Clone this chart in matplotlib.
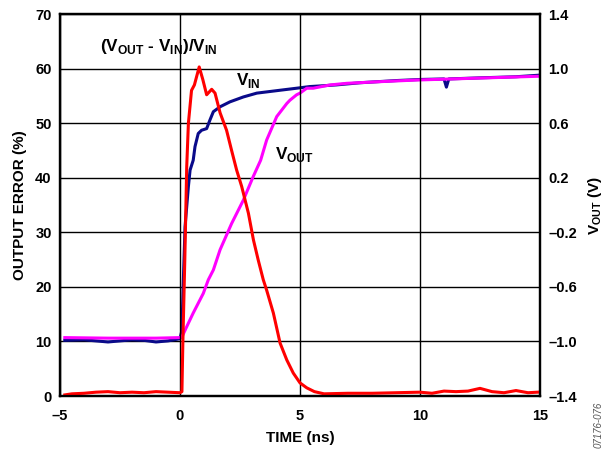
import matplotlib
matplotlib.use("Agg")
import matplotlib.pyplot as plt

plt.rcParams['font.family'] = ['Liberation Sans', 'DejaVu Sans']
plt.rcParams['font.weight'] = 'bold'
plt.rcParams['mathtext.fontset'] = 'custom'
plt.rcParams['mathtext.bf'] = 'Liberation Sans:bold'
plt.rcParams['mathtext.rm'] = 'Liberation Sans:bold'

# output error (%) vs time (ns)
err_t = [-4.8, -4.5, -4.0, -3.5, -3.0, -2.5, -2.0, -1.5, -1.0, -0.5, 0.0, 0.08, 0.12, 0.2, 0.28,
         0.35, 0.48, 0.6, 0.8, 0.95, 1.11, 1.32, 1.46, 1.67, 1.94, 2.15, 2.36, 2.57, 2.85, 3.06,
         3.26, 3.47, 3.61, 3.89, 4.17, 4.45, 4.72, 5.0, 5.28, 5.6, 6.0, 7.0, 8.0, 9.0, 10.0,
         10.5, 11.0, 11.5, 12.0, 12.5, 13.0, 13.5, 14.0, 14.5, 14.9]
err_pct = [0.2, 0.4, 0.5, 0.7, 0.8, 0.6, 0.7, 0.6, 0.8, 0.7, 0.6, 0.8, 10, 25, 42,
           50, 56, 57, 60.3, 58, 55.2, 56.2, 55.5, 51.9, 48.7, 45.0, 41.4, 38.4, 33.5, 28.6,
           24.9, 21.3, 19.4, 15.2, 9.7, 6.6, 4.2, 2.4, 1.5, 0.8, 0.4, 0.5, 0.5, 0.6, 0.7,
           0.5, 0.9, 0.8, 0.9, 1.4, 0.8, 0.6, 1.0, 0.6, 0.7]

# V_IN (V)
vin_t = [-4.8, -4.0, -3.5, -3.0, -2.5, -2.0, -1.5, -1.0, -0.5, 0.0, 0.08, 0.14, 0.21, 0.35,
         0.42, 0.55, 0.625, 0.76, 0.9, 1.11, 1.25, 1.39, 1.67, 2.08, 2.64, 3.2, 3.75, 4.3,
         4.86, 5.4, 6.5, 7.5, 9.0, 10.0, 11.0, 11.1, 11.2, 12.5, 14.0, 15.0]
vin_v = [-0.992, -0.988, -0.996, -1.004, -0.996, -0.988, -0.992, -1.004, -0.996, -0.98, -0.92,
         -0.548, -0.16, 0.136, 0.256, 0.328, 0.428, 0.524, 0.548, 0.56, 0.624, 0.684, 0.72,
         0.756, 0.792, 0.82, 0.832, 0.844, 0.856, 0.868, 0.88, 0.896, 0.912, 0.92, 0.924,
         0.864, 0.924, 0.932, 0.94, 0.952]

# V_OUT (V)
vout_t = [-4.8, -3.0, -1.0, 0.0, 0.1, 0.28, 0.55, 0.97, 1.18, 1.39, 1.67, 2.15, 2.64, 3.05,
          3.36, 3.61, 4.03, 4.45, 4.58, 4.86, 5.0, 5.28, 5.55, 6.25, 6.95, 8.33, 9.86, 15.0]
vout_v = [-0.972, -0.976, -0.976, -0.972, -0.96, -0.892, -0.792, -0.648, -0.548, -0.476,
          -0.328, -0.136, 0.036, 0.208, 0.328, 0.476, 0.648, 0.744, 0.768, 0.808, 0.82,
          0.856, 0.856, 0.88, 0.892, 0.904, 0.916, 0.944]

x_ticks = [-5, 0, 5, 10, 15]
x_labels = ['\u20135', '0', '5', '10', '15']
pct_ticks = [0, 10, 20, 30, 40, 50, 60, 70]
v_ticks = [-1.4, -1.0, -0.6, -0.2, 0.2, 0.6, 1.0, 1.4]
v_labels = ['\u20131.4', '\u20131.0', '\u20130.6', '\u20130.2', '0.2', '0.6', '1.0', '1.4']

fig = plt.figure(figsize=(6.03, 4.49), dpi=100)
ax1 = fig.add_axes([60 / 603, 1 - 396 / 449, 480 / 603, 382 / 449])
ax2 = ax1.twinx()
ax1.set_zorder(ax2.get_zorder() + 1)
ax1.patch.set_visible(False)

ax2.plot(vin_t, vin_v, color='#0a0a8a', lw=2.2)
ax2.plot(vout_t, vout_v, color='#ff00ff', lw=2.2)
ax1.plot(err_t, err_pct, color='#ff0000', lw=2.2)

ax1.set_xlim(-5, 15)
ax1.set_ylim(0, 70)
ax2.set_ylim(-1.4, 1.4)
ax1.set_xticks(x_ticks)
ax1.set_xticklabels(x_labels)
ax1.set_yticks(pct_ticks)
ax2.set_yticks(v_ticks)
ax2.set_yticklabels(v_labels)
ax2.grid(True, color='black', lw=1.0)
ax1.xaxis.grid(True, color='black', lw=1.0)

for ax in (ax1, ax2):
    ax.tick_params(length=0, labelsize=10.5, pad=6)
    for s in ax.spines.values():
        s.set_linewidth(1.6)
ax1.tick_params(axis='x', pad=9)

ax1.set_xlabel('TIME (ns)', fontsize=11, fontweight='bold', labelpad=6)
ax1.set_ylabel('OUTPUT ERROR (%)', fontsize=11, fontweight='bold', labelpad=6)
ax2.set_ylabel(r'V$_{\mathbf{OUT}}$ (V)', fontsize=11, fontweight='bold', rotation=90)
ax2.yaxis.label.set_verticalalignment('center')
ax2.yaxis.set_label_coords(1.115, 0.5)

ax1.text(-3.35, 64, r'(V$_{\mathbf{OUT}}$ - V$_{\mathbf{IN}}$)/V$_{\mathbf{IN}}$', fontsize=12.3,
         fontweight='bold', va='center', ha='left')
ax1.text(2.35, 57.9, r'V$_{\mathbf{IN}}$', fontsize=12.3, fontweight='bold', va='center')
ax1.text(3.95, 44.2, r'V$_{\mathbf{OUT}}$', fontsize=12.3, fontweight='bold', va='center')

fig.text(0.992, 0.002, '07176-076', rotation=90, fontsize=7, style='italic',
         fontweight='normal', color='#555555', ha='center', va='bottom')

fig.savefig('out.png', dpi=100)
